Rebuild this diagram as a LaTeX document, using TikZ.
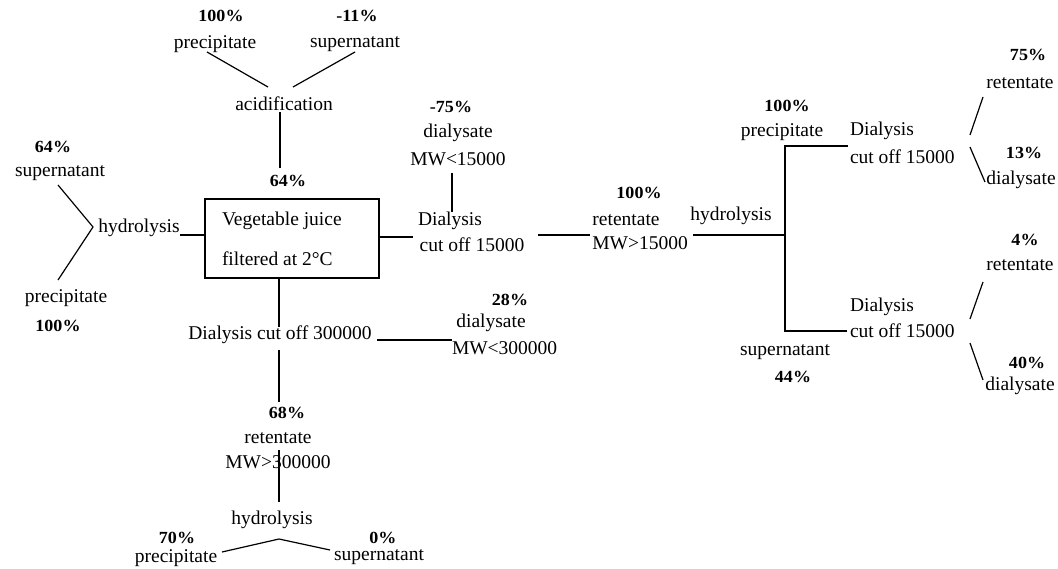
\documentclass[tikz,border=0pt]{standalone}
\usepackage{fontspec}
\setmainfont{Liberation Serif}
\newfontfamily\pctfont{Liberation Serif}[FakeStretch=1.06]
\usetikzlibrary{positioning}

\begin{document}
\begin{tikzpicture}[% styles used in image code
   x = 1pt, y = -1pt,
txt/.style = {inner sep=0pt, outer sep=0pt,
              font=\fontsize{19.5}{21}\selectfont},
pct/.style = {inner sep=0pt, outer sep=0pt,
              font=\pctfont\fontsize{17}{19}\selectfont\bfseries},
juice/.style = {draw, line width=1.8pt, minimum width=174pt,
              minimum height=79pt, inner sep=0pt},
link/.style = {line width=1.2pt}
                        ]
	\useasboundingbox (0,0) rectangle (1058,568);

	% starting material
	\node[juice] (juice) at (292,238.5) {};
	\node[txt, anchor=west] (veg1) at (222,221) {Vegetable juice};
	\node[txt, anchor=west] (veg2) at (222,259) {filtered at 2°C};

	% acidification branch
	\node[pct] (acidpct) at (288,181) {64\%};
	\node[txt] (acid) at (284,104) {acidification};
	\node[pct] (ppta) at (221,16) {100\%};
	\node[txt] (pptb) at (215,44) {precipitate};
	\node[pct] (supa) at (357,16) {-11\%};
	\node[txt] (supb) at (355,44) {supernatant};
	\coordinate (acid1) at (268,87);
	\coordinate (acid2) at (293,87);
	\coordinate (acid3) at (280,112);
	\coordinate (acid4) at (280,168);
	\coordinate (ppt1) at (207,52);
	\coordinate (sup1) at (355,52);
	\draw[link] (acid1) -- (ppt1);
	\draw[link] (acid2) -- (sup1);
	\draw[link] (acid4) -- (acid3);

	% hydrolysis branch (left)
	\node[txt] (hydl) at (139,228) {hydrolysis};
	\node[pct] (lsupa) at (53,147) {64\%};
	\node[txt] (lsupb) at (60,173) {supernatant};
	\node[txt] (lpptb) at (66,298) {precipitate};
	\node[pct] (lppta) at (58,326) {100\%};
	\coordinate (hydl1) at (93,227);
	\coordinate (hydl2) at (58,185);
	\coordinate (hydl3) at (58,280);
	\coordinate (hydl4) at (180,235);
	\draw[link] (hydl2) -- (hydl1) -- (hydl3);
	\draw[link] (hydl4) -- (juice.west |- hydl4);

	% dialysis 15000 branch
	\node[txt] (dia1) at (450,221) {Dialysis};
	\node[txt] (dia2) at (472,245) {cut off 15000};
	\node[pct] (dlsa) at (451,107) {-75\%};
	\node[txt] (dlsb) at (458,133) {dialysate};
	\node[txt] (dlsc) at (458,159) {MW<15000};
	\node[pct] (reta) at (639,193) {100\%};
	\node[txt] (retb) at (626,220) {retentate};
	\node[txt] (retc) at (640,243) {MW>15000};
	\coordinate (dia3) at (413,237);
	\coordinate (dia4) at (452,173);
	\coordinate (dia5) at (452,212);
	\coordinate (dia6) at (538,235);
	\coordinate (dia7) at (590,235);
	\draw[link] (juice.east |- dia3) -- (dia3);
	\draw[link] (dia4) -- (dia5);
	\draw[link] (dia6) -- (dia7);

	% hydrolysis of retentate
	\node[txt] (hydr) at (731,216) {hydrolysis};
	\node[pct] (rppta) at (787,106) {100\%};
	\node[txt] (rpptb) at (782,132) {precipitate};
	\node[txt] (rsupa) at (785,352) {supernatant};
	\node[pct] (rsupb) at (793,377) {44\%};
	\coordinate (hydr1) at (693,235);
	\coordinate (hydr2) at (785,235);
	\coordinate (hydr3) at (848,146);
	\coordinate (hydr4) at (847,331);
	\draw[link] (hydr1) -- (hydr2);
	\draw[link] (hydr3) -| (hydr2) |- (hydr4);

	% dialysis of precipitate
	\node[txt, anchor=west] (pdia1) at (850,131) {Dialysis};
	\node[txt, anchor=west] (pdia2) at (850,157) {cut off 15000};
	\node[pct] (pret1) at (1028,55) {75\%};
	\node[txt] (pret2) at (1020,83) {retentate};
	\node[pct] (pdls1) at (1024,153) {13\%};
	\node[txt] (pdls2) at (1021,180) {dialysate};
	\coordinate (pd1) at (983,97);
	\coordinate (pd2) at (970,135);
	\coordinate (pd3) at (970,147);
	\coordinate (pd4) at (985,182);
	\draw[link] (pd1) -- (pd2);
	\draw[link] (pd3) -- (pd4);

	% dialysis of supernatant
	\node[txt, anchor=west] (sdia1) at (850,307) {Dialysis};
	\node[txt, anchor=west] (sdia2) at (850,331) {cut off 15000};
	\node[pct] (sret1) at (1025,240) {4\%};
	\node[txt] (sret2) at (1020,265) {retentate};
	\node[pct] (sdls1) at (1027,363) {40\%};
	\node[txt] (sdls2) at (1020,386) {dialysate};
	\coordinate (sd1) at (983,282);
	\coordinate (sd2) at (970,319);
	\coordinate (sd3) at (970,343);
	\coordinate (sd4) at (983,380);
	\draw[link] (sd1) -- (sd2);
	\draw[link] (sd3) -- (sd4);

	% dialysis 300000 branch
	\node[txt] (big) at (280,335) {Dialysis cut off 300000};
	\node[pct] (bdls1) at (510,300) {28\%};
	\node[txt] (bdls2) at (491,323) {dialysate};
	\node[txt, anchor=west] (bdls3) at (452,348) {MW<300000};
	\node[pct] (bret1) at (287,413) {68\%};
	\node[txt] (bret2) at (278,438) {retentate};
	\node[txt] (bret3) at (278,462) {MW>300000};
	\coordinate (big1) at (279,327);
	\coordinate (big2) at (279,350);
	\coordinate (big3) at (279,402);
	\coordinate (big4) at (377,340);
	\coordinate (big5) at (452,340);
	\draw[link] (juice.south -| big1) -- (big1);
	\draw[link] (big2) -- (big3);
	\draw[link] (big4) -- (big5);

	% hydrolysis of big retentate
	\node[txt] (hydb) at (272,520) {hydrolysis};
	\node[pct] (bppt1) at (177,538) {70\%};
	\node[txt] (bppt2) at (176,558) {precipitate};
	\node[pct] (bsup1) at (383,538) {0\%};
	\node[txt] (bsup2) at (379,557) {supernatant};
	\coordinate (hb1) at (279,450);
	\coordinate (hb2) at (279,502);
	\coordinate (hb3) at (222,552);
	\coordinate (hb4) at (279,539);
	\coordinate (hb5) at (330,550);
	\draw[link] (hb1) -- (hb2);
	\draw[link] (hb3) -- (hb4) -- (hb5);
\end{tikzpicture}
\end{document}
